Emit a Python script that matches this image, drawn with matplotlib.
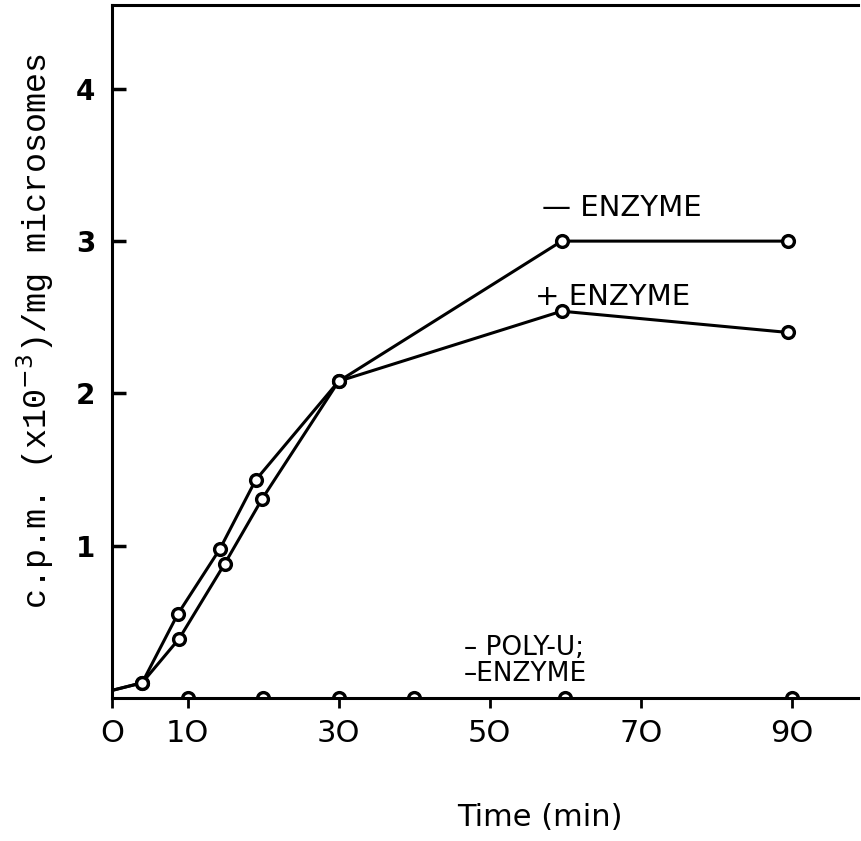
import matplotlib.pyplot as plt

# -ENZYME curve
minus_t = [0, 4, 8.7, 14.3, 19, 30, 59.5, 89.5]
minus_v = [0.05, 0.1, 0.55, 0.98, 1.43, 2.08, 3.0, 3.0]
# +ENZYME curve
plus_t = [0, 4, 8.9, 14.9, 19.9, 30, 59.5, 89.5]
plus_v = [0.05, 0.1, 0.39, 0.88, 1.31, 2.08, 2.54, 2.40]
# -POLY-U; -ENZYME curve (flat on the axis)
blank_t = [10, 20, 30, 40, 60, 90]
blank_v = [0, 0, 0, 0, 0, 0]

x_ticks = [0, 10, 30, 50, 70, 90]
x_ticklabels = ['O', '1O', '3O', '5O', '7O', '9O']
y_ticks = [1, 2, 3, 4]

fig = plt.figure(figsize=(8.61, 8.41), dpi=100)
ax = fig.add_axes([0.13, 0.17, 0.8665, 0.824])

style = dict(color='black', lw=2.2, marker='o', ms=8.5, mfc='white', mec='black', mew=2.4)
ax.plot(minus_t, minus_v, markevery=slice(1, None), **style)
ax.plot(plus_t, plus_v, markevery=slice(1, None), **style)
ax.plot(blank_t, blank_v, ls='none', marker='o', ms=8.5, mfc='white', mec='black', mew=2.4)

ax.set_xlim(0, 98.7)
ax.set_ylim(0, 4.55)

for s in ['left', 'bottom', 'top']:
    ax.spines[s].set_linewidth(2.2)
ax.spines['right'].set_visible(False)

ax.set_xticks(x_ticks)
ax.set_xticklabels(x_ticklabels, fontsize=22, family='DejaVu Sans')
ax.set_yticks(y_ticks)
ax.set_yticklabels([str(v) for v in y_ticks], fontsize=20, fontweight='bold', family='DejaVu Sans')
ax.tick_params(axis='x', direction='out', length=7, width=2, pad=8)
ax.tick_params(axis='y', direction='in', length=10, width=2.5, pad=12)

ax.set_ylabel('c.p.m. (x10$^{-3}$)/mg microsomes', fontsize=24, family='Liberation Mono')
ax.yaxis.set_label_coords(-0.075, 0.53)
ax.set_xlabel('Time (min)', fontsize=22, family='DejaVu Sans')
ax.xaxis.set_label_coords(0.574, -0.152)

lab = dict(fontsize=21, family='DejaVu Sans', ha='left', va='center')
ax.text(56.9, 3.22, '\u2014 ENZYME', **lab)
ax.text(56.0, 2.63, '+ ENZYME', **lab)
small = dict(fontsize=19, family='DejaVu Sans', ha='left', va='center')
ax.text(46.6, 0.33, '\u2013 POLY-U;', **small)
ax.text(46.6, 0.16, '\u2013ENZYME', **small)

fig.savefig('out.png', dpi=100)
